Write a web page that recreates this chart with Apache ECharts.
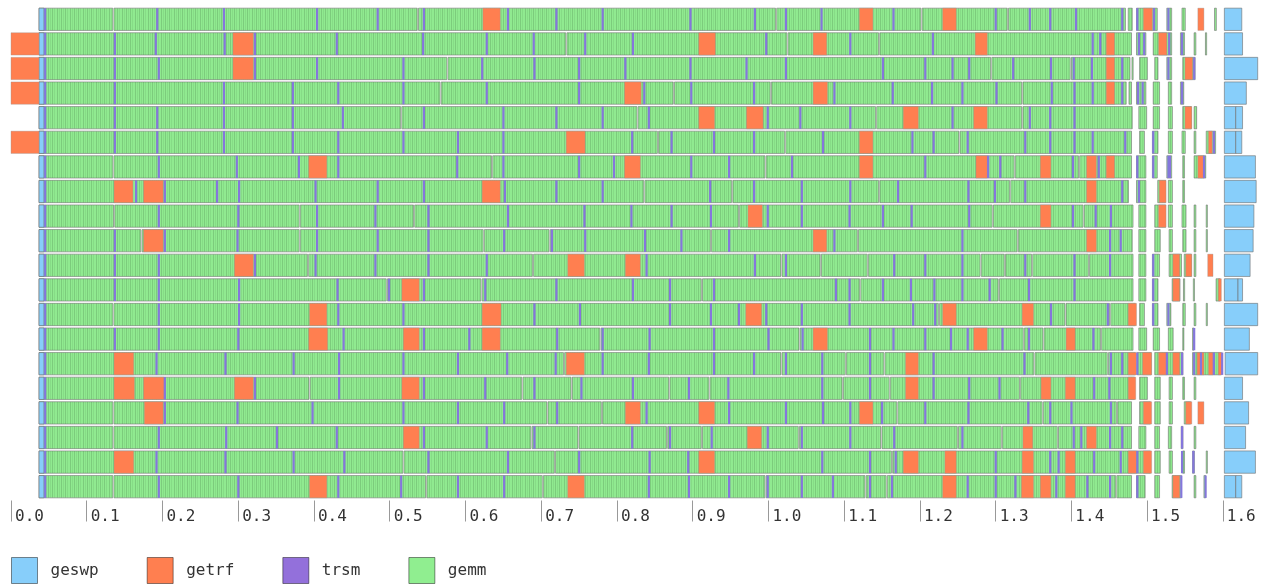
<!DOCTYPE html>
<html>
<head>
	<meta charset="utf-8"/>
	<title>task trace</title>
	<script src="https://cdn.jsdelivr.net/npm/echarts@6.0.0/dist/echarts.min.js"></script>
</head>
<body style="margin: 0; background: #fff;">

	<div id="chart" style="width: 1262px; height: 586px;"></div>

	<script>
		// one row per worker, top to bottom
		var workers = ['w0','w1','w2','w3','w4','w5','w6','w7','w8','w9','w10','w11','w12','w13','w14','w15','w16','w17','w18','w19'];
		var taskNames = ['geswp', 'getrf', 'trsm', 'gemm'];
		var tickValues = [0, 0.1, 0.2, 0.3, 0.4, 0.5, 0.6, 0.7, 0.8, 0.9, 1.0, 1.1, 1.2, 1.3, 1.4, 1.5, 1.6];
		var timeMax = 1.6464;

		// gemm: main run, start / white gaps / end
		var gemmRuns = [
			[0.037, 0.136, 0.538, 1.011, 1.203, 1.317, 1.473],
			[0.037, 0.734, 1.026, 1.147, 1.481],
			[0.037, 0.577, 1.295, 1.400, 1.479],
			[0.037, 0.568, 0.876, 1.004, 1.336, 1.474],
			[0.037, 0.516, 0.828, 1.143, 1.336, 1.482],
			[0.037, 0.855, 1.023, 1.253, 1.481],
			[0.037, 0.136, 0.636, 0.997, 1.326, 1.411, 1.481],
			[0.037, 0.837, 0.953, 1.147, 1.320, 1.477],
			[0.037, 0.137, 0.382, 0.533, 0.962, 1.297, 1.417, 1.483],
			[0.037, 0.173, 0.382, 0.625, 0.712, 0.925, 1.119, 1.330, 1.482],
			[0.037, 0.393, 0.690, 1.018, 1.070, 1.132, 1.281, 1.313, 1.349, 1.424, 1.483],
			[0.037, 0.497, 0.622, 0.913, 1.122, 1.305, 1.483],
			[0.037, 0.136, 1.226, 1.393, 1.452, 1.486],
			[0.037, 0.779, 1.042, 1.338, 1.364, 1.440, 1.483],
			[0.037, 0.731, 1.018, 1.103, 1.154, 1.352, 1.449, 1.486],
			[0.037, 0.395, 0.676, 0.741, 0.870, 0.923, 1.099, 1.161, 1.333, 1.485],
			[0.037, 0.136, 0.709, 0.781, 1.171, 1.363, 1.461, 1.481],
			[0.037, 0.136, 0.688, 0.750, 0.867, 0.913, 1.041, 1.150, 1.251, 1.309, 1.383, 1.481],
			[0.037, 0.519, 0.719, 1.164, 1.506],
			[0.037, 0.136, 0.549, 0.703, 0.997, 1.129, 1.157, 1.460, 1.481]
		];

		// gemm: scattered blocks at the end of the run
		var gemmTail = [
			[[1.475,1.482],[1.486,1.515],[1.526,1.534],[1.546,1.552],[1.589,1.593]],
			[[1.486,1.500],[1.508,1.534],[1.544,1.551],[1.562,1.566],[1.577,1.579]],
			[[1.480,1.483],[1.490,1.502],[1.510,1.516],[1.526,1.534],[1.547,1.565]],
			[[1.476,1.481],[1.486,1.500],[1.508,1.518],[1.528,1.534],[1.544,1.550]],
			[[1.489,1.501],[1.508,1.518],[1.528,1.535],[1.547,1.560],[1.562,1.567]],
			[[1.490,1.498],[1.507,1.516],[1.528,1.535],[1.546,1.552],[1.562,1.566],[1.578,1.592]],
			[[1.486,1.500],[1.507,1.515],[1.526,1.534],[1.547,1.551],[1.562,1.579]],
			[[1.486,1.500],[1.514,1.526],[1.528,1.535],[1.547,1.551]],
			[[1.489,1.500],[1.510,1.526],[1.528,1.535],[1.546,1.553],[1.562,1.566],[1.578,1.581]],
			[[1.489,1.500],[1.510,1.519],[1.529,1.535],[1.547,1.553],[1.562,1.566],[1.578,1.581]],
			[[1.489,1.500],[1.507,1.518],[1.529,1.547],[1.549,1.560],[1.562,1.566]],
			[[1.489,1.500],[1.507,1.516],[1.533,1.545],[1.548,1.550],[1.561,1.562],[1.591,1.598]],
			[[1.490,1.498],[1.507,1.516],[1.526,1.533],[1.547,1.552],[1.562,1.566],[1.578,1.580]],
			[[1.489,1.501],[1.508,1.518],[1.528,1.536],[1.547,1.549],[1.560,1.563]],
			[[1.487,1.507],[1.510,1.549],[1.560,1.599]],
			[[1.490,1.502],[1.510,1.519],[1.529,1.535],[1.547,1.551],[1.562,1.566]],
			[[1.490,1.506],[1.510,1.519],[1.529,1.535],[1.549,1.559]],
			[[1.489,1.500],[1.510,1.518],[1.528,1.534],[1.545,1.549],[1.562,1.566]],
			[[1.510,1.519],[1.529,1.535],[1.547,1.551],[1.560,1.564],[1.578,1.581]],
			[[1.486,1.499],[1.510,1.518],[1.533,1.547],[1.562,1.566],[1.575,1.579]]
		];

		var getrfTasks = [
			[[0.623,0.646],[1.120,1.138],[1.230,1.248],[1.495,1.507],[1.567,1.575]],
			[[0,0.037],[0.293,0.320],[0.908,0.930],[1.059,1.077],[1.273,1.289],[1.446,1.457],[1.515,1.526]],
			[[0,0.037],[0.293,0.320],[1.446,1.457],[1.550,1.560]],
			[[0,0.037],[0.810,0.832],[1.059,1.078],[1.446,1.457]],
			[[0.908,0.929],[0.971,0.993],[1.178,1.198],[1.271,1.289],[1.550,1.559]],
			[[0,0.037],[0.733,0.758],[1.120,1.138],[1.581,1.586]],
			[[0.393,0.417],[0.810,0.831],[1.120,1.138],[1.274,1.289],[1.359,1.373],[1.420,1.433],[1.446,1.457],[1.567,1.575]],
			[[0.136,0.161],[0.175,0.201],[0.622,0.646],[1.420,1.433],[1.516,1.525]],
			[[0.973,0.992],[1.359,1.373],[1.515,1.525]],
			[[0.175,0.201],[1.059,1.077],[1.420,1.433]],
			[[0.295,0.320],[0.735,0.757],[0.811,0.831],[1.534,1.543],[1.551,1.559],[1.580,1.587]],
			[[0.516,0.539],[1.534,1.543],[1.594,1.598]],
			[[0.394,0.417],[0.622,0.647],[0.970,0.991],[1.230,1.248],[1.335,1.350],[1.475,1.486]],
			[[0.393,0.418],[0.518,0.539],[0.622,0.646],[1.059,1.078],[1.271,1.289],[1.393,1.405]],
			[[0.136,0.162],[0.733,0.757],[1.181,1.198],[1.475,1.486],[1.494,1.506],[1.515,1.526],[1.534,1.543],[1.566,1.575],[1.581,1.587],[1.594,1.599]],
			[[0.136,0.163],[0.175,0.202],[0.295,0.320],[0.516,0.539],[1.181,1.198],[1.360,1.373],[1.392,1.405],[1.475,1.485]],
			[[0.176,0.201],[0.811,0.831],[0.908,0.929],[1.120,1.138],[1.495,1.506],[1.551,1.559],[1.567,1.575]],
			[[0.518,0.539],[0.972,0.991],[1.336,1.349],[1.420,1.433]],
			[[0.136,0.162],[0.908,0.929],[1.178,1.198],[1.233,1.248],[1.335,1.350],[1.392,1.405],[1.475,1.486],[1.495,1.506]],
			[[0.394,0.417],[0.735,0.757],[1.230,1.248],[1.334,1.350],[1.359,1.373],[1.392,1.405],[1.534,1.543]]
		];

		var geswpTasks = [
			[[0.037,0.0435],[1.602,1.625]],
			[[0.037,0.0435],[1.602,1.626]],
			[[0.037,0.0435],[1.602,1.646]],
			[[0.037,0.0435],[1.602,1.631]],
			[[0.037,0.0435],[1.602,1.617],[1.617,1.626]],
			[[0.037,0.0435],[1.602,1.617],[1.617,1.625]],
			[[0.037,0.0435],[1.602,1.643]],
			[[0.037,0.0435],[1.602,1.644]],
			[[0.037,0.0435],[1.602,1.641]],
			[[0.037,0.0435],[1.602,1.640]],
			[[0.037,0.0435],[1.602,1.636]],
			[[0.037,0.0435],[1.602,1.620],[1.620,1.626]],
			[[0.037,0.0435],[1.602,1.646]],
			[[0.037,0.0435],[1.602,1.635]],
			[[0.037,0.0435],[1.603,1.646]],
			[[0.037,0.0435],[1.602,1.626]],
			[[0.037,0.0435],[1.602,1.634]],
			[[0.037,0.0435],[1.602,1.630]],
			[[0.037,0.0435],[1.602,1.643]],
			[[0.037,0.0435],[1.602,1.617],[1.617,1.625]]
		];

		// trsm: short tasks, start times only
		var trsmTasks = [
			[0.045,0.193,0.281,0.404,0.484,0.545,0.656,0.720,0.781,0.897,0.982,1.023,1.070,1.165,1.300,1.345,1.372,1.406,1.467,1.487,1.509,1.528],
			[0.045,0.137,0.191,0.282,0.322,0.430,0.544,0.628,0.690,0.758,0.821,0.997,1.108,1.217,1.428,1.438,1.489,1.496,1.529,1.546],
			[0.045,0.137,0.195,0.322,0.404,0.518,0.622,0.691,0.750,0.811,0.897,0.971,1.023,1.151,1.207,1.243,1.265,1.323,1.373,1.403,1.427,1.467,1.528,1.562],
			[0.045,0.137,0.281,0.372,0.432,0.518,0.628,0.750,0.836,0.898,0.981,1.087,1.164,1.216,1.256,1.301,1.374,1.404,1.428,1.467,1.488,1.494,1.546],
			[0.045,0.137,0.193,0.281,0.372,0.438,0.545,0.650,0.720,0.781,0.842,0.999,1.042,1.108,1.243,1.345,1.372,1.404],
			[0.045,0.137,0.193,0.281,0.372,0.432,0.518,0.590,0.650,0.820,0.872,0.928,0.981,1.072,1.190,1.218,1.263,1.339,1.372,1.404,1.428,1.471,1.508,1.588],
			[0.045,0.195,0.298,0.380,0.432,0.589,0.650,0.750,0.796,0.898,0.948,1.031,1.207,1.290,1.306,1.402,1.436,1.487,1.508,1.528,1.530,1.575],
			[0.045,0.165,0.203,0.272,0.301,0.402,0.484,0.545,0.652,0.720,0.781,0.923,0.981,1.044,1.108,1.171,1.264,1.299,1.339,1.467,1.489],
			[0.045,0.195,0.300,0.404,0.481,0.551,0.656,0.757,0.819,0.872,0.924,0.999,1.044,1.107,1.151,1.189,1.265,1.402,1.432,1.452],
			[0.045,0.137,0.203,0.299,0.404,0.484,0.551,0.651,0.714,0.758,0.837,0.885,0.948,1.087,1.256,1.451,1.465],
			[0.045,0.137,0.195,0.322,0.402,0.481,0.551,0.628,0.839,0.982,1.023,1.166,1.207,1.256,1.339,1.404,1.451,1.508],
			[0.045,0.137,0.195,0.301,0.431,0.499,0.545,0.626,0.720,0.821,0.870,0.928,1.089,1.107,1.151,1.188,1.219,1.256,1.292,1.344,1.404,1.508],
			[0.045,0.195,0.301,0.432,0.518,0.691,0.751,0.870,0.924,0.961,0.997,1.044,1.107,1.191,1.220,1.373,1.448,1.508,1.528],
			[0.045,0.137,0.195,0.300,0.439,0.545,0.605,0.721,0.781,0.843,0.928,1.000,1.045,1.134,1.165,1.207,1.241,1.263,1.309,1.344,1.429,1.562],
			[0.045,0.192,0.283,0.373,0.433,0.518,0.590,0.655,0.719,0.781,0.842,0.928,0.981,1.023,1.071,1.134,1.218,1.338,1.452,1.467,1.487,1.526,1.546,1.562,1.571,1.588,1.599],
			[0.045,0.203,0.322,0.433,0.545,0.626,0.691,0.753,0.821,0.895,0.947,1.071,1.134,1.218,1.265,1.305,1.430,1.450],
			[0.045,0.203,0.299,0.398,0.518,0.590,0.651,0.721,0.839,0.948,1.023,1.072,1.108,1.150,1.207,1.264,1.343,1.372,1.400,1.452],
			[0.045,0.195,0.284,0.351,0.430,0.545,0.628,0.691,0.820,0.870,0.925,0.999,1.044,1.108,1.166,1.256,1.403,1.413,1.451,1.467,1.546],
			[0.045,0.192,0.283,0.373,0.440,0.551,0.656,0.750,0.843,0.894,1.071,1.134,1.168,1.300,1.372,1.383,1.430,1.465,1.487,1.546,1.561],
			[0.045,0.195,0.300,0.432,0.515,0.590,0.651,0.842,0.895,0.948,0.999,1.044,1.085,1.134,1.163,1.263,1.300,1.326,1.380,1.421,1.451,1.487,1.545,1.577]
		];

		var colors = {
			geswp: '#87cefa',
			getrf: '#ff7f50',
			trsm: '#9370db',
			gemm: '#90ee90'
		};

		// striped fill for the dense gemm tasks
		function makeGemmPattern() {
			var c = document.createElement('canvas');
			c.width = 13;
			c.height = 4;
			var ctx = c.getContext('2d');
			ctx.fillStyle = '#90ea90';
			ctx.fillRect(0, 0, 13, 4);
			ctx.fillStyle = '#7ccc7c';
			[0, 5, 9].forEach(function (x) { ctx.fillRect(x, 0, 1, 4); });
			ctx.fillStyle = '#86dc86';
			[2, 7, 11].forEach(function (x) { ctx.fillRect(x, 0, 1, 4); });
			return { image: c, repeat: 'repeat' };
		}

		function spansToData(rows) {
			var out = [];
			rows.forEach(function (spans, r) {
				spans.forEach(function (s) { out.push([r, s[0], s[1]]); });
			});
			return out;
		}

		var gemmData = [];
		gemmRuns.forEach(function (run, r) {
			for (var i = 0; i < run.length - 1; i++) {
				gemmData.push([r, run[i], run[i + 1]]);
			}
			gemmTail[r].forEach(function (s) { gemmData.push([r, s[0], s[1]]); });
		});
		var trsmData = [];
		trsmTasks.forEach(function (ts, r) {
			ts.forEach(function (t) { trsmData.push([r, t]); });
		});

		function spanRenderer(gap, style) {
			return function (params, api) {
				var row = api.value(0);
				var p0 = api.coord([api.value(1), row]);
				var p1 = api.coord([api.value(2), row]);
				var h = api.size([0, 1])[1] * 0.907;
				var w = Math.max(p1[0] - p0[0] - gap, 1.2);
				return {
					type: 'rect',
					shape: { x: p0[0], y: p0[1] - h / 2, width: w, height: h },
					style: Object.assign({}, style)
				};
			};
		}

		function trsmRenderer(params, api) {
			var row = api.value(0);
			var p = api.coord([api.value(1), row]);
			var h = api.size([0, 1])[1] * 0.907;
			return {
				type: 'rect',
				shape: { x: p[0] - 1, y: p[1] - h / 2, width: 2.2, height: h },
				style: { fill: '#8576dc' }
			};
		}

		var monoFont = '"DejaVu Sans Mono", "Liberation Mono", monospace';
		var gemmPattern = makeGemmPattern();

		var myChart = echarts.init(document.getElementById('chart'));

		var option = {
			animation: false,
			grid: { left: 11, right: 4, top: 7, bottom: 87 },
			xAxis: {
				type: 'value',
				min: 0,
				max: timeMax,
				offset: 1.5,
				axisLine: { show: false },
				splitLine: { show: false },
				axisTick: {
					show: true,
					length: 21,
					customValues: tickValues,
					lineStyle: { color: '#999', width: 1 }
				},
				axisLabel: {
					customValues: tickValues,
					align: 'left',
					verticalAlign: 'middle',
					margin: 16,
					padding: [0, 0, 0, 4],
					fontFamily: monoFont,
					fontSize: 16,
					color: '#333',
					formatter: function (v) { return v.toFixed(1); }
				}
			},
			yAxis: {
				type: 'category',
				data: workers,
				inverse: true,
				show: false
			},
			legend: {
				left: 6,
				top: 552,
				icon: 'rect',
				itemWidth: 26,
				itemHeight: 26,
				itemGap: 48,
				selectedMode: false,
				data: taskNames,
				itemStyle: { borderColor: 'rgba(0,0,0,0.45)', borderWidth: 1 },
				textStyle: { fontFamily: monoFont, fontSize: 16, color: '#333', padding: [0, 0, 0, 8] }
			},
			series: [
				{
					name: 'gemm',
					type: 'custom',
					itemStyle: { color: colors.gemm },
					encode: { x: [1, 2], y: 0 },
					renderItem: spanRenderer(1.2, { fill: gemmPattern, stroke: 'rgba(110,110,110,0.55)', lineWidth: 1 }),
					data: gemmData
				},
				{
					name: 'geswp',
					type: 'custom',
					itemStyle: { color: colors.geswp },
					encode: { x: [1, 2], y: 0 },
					renderItem: spanRenderer(0, { fill: colors.geswp, stroke: 'rgba(110,110,110,0.6)', lineWidth: 1 }),
					data: spansToData(geswpTasks)
				},
				{
					name: 'getrf',
					type: 'custom',
					itemStyle: { color: colors.getrf },
					encode: { x: [1, 2], y: 0 },
					renderItem: spanRenderer(0, { fill: colors.getrf, stroke: 'rgba(150,150,150,0.35)', lineWidth: 1 }),
					data: spansToData(getrfTasks)
				},
				{
					name: 'trsm',
					type: 'custom',
					itemStyle: { color: colors.trsm },
					encode: { x: 1, y: 0 },
					renderItem: trsmRenderer,
					data: trsmData
				}
			]
		};

		myChart.setOption(option);
	</script>
</body>
</html>
